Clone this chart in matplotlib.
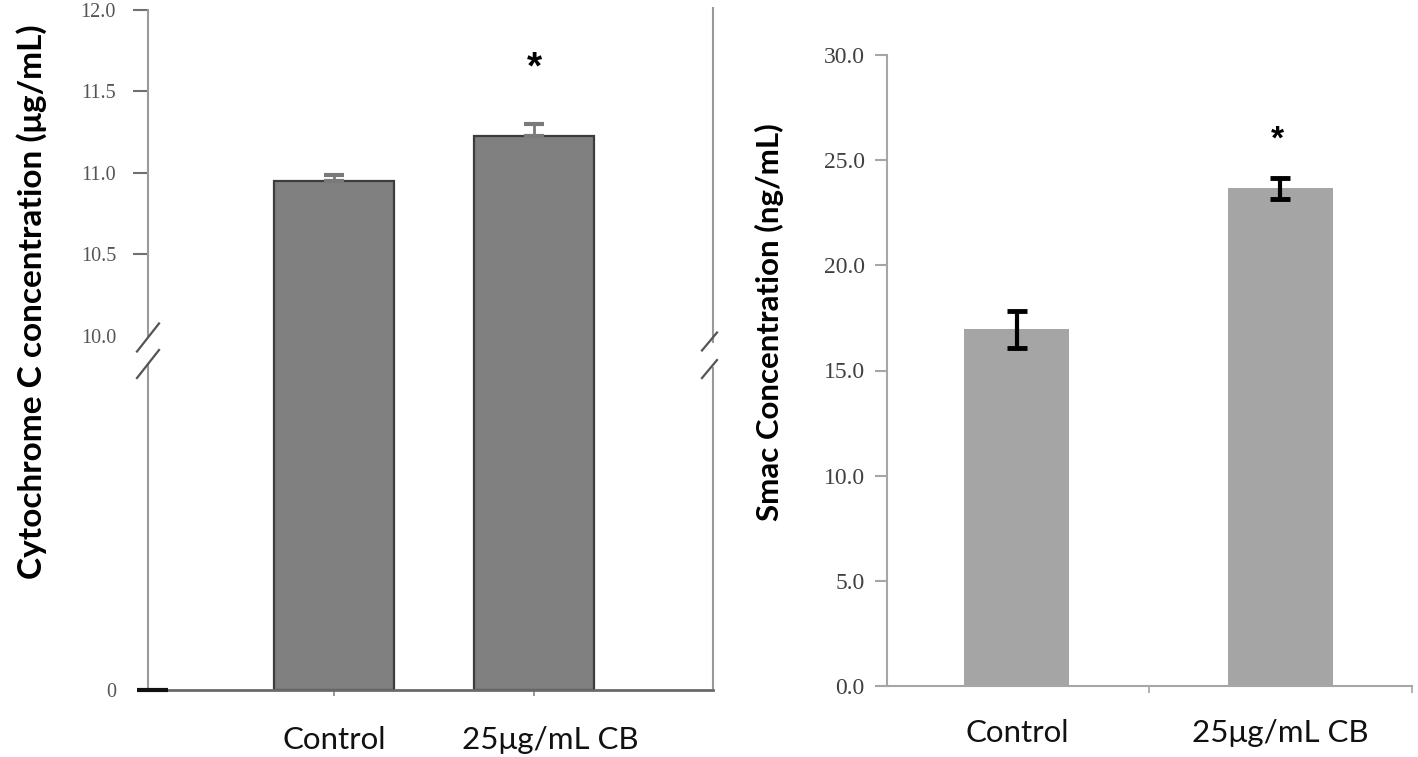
import numpy as np
import matplotlib
matplotlib.use("Agg")
import matplotlib.pyplot as plt
import matplotlib.transforms as mtransforms
from matplotlib.ticker import FixedLocator, FixedFormatter

# dados
grupos = ["Control", "25\u03bcg/mL CB"]
cyto_media = [10.947, 11.223]
cyto_erro = [0.04, 0.078]
smac_media = [16.95, 23.67]
smac_erro = [0.9, 0.5]
cyto_ticks = [0, 10.0, 10.5, 11.0, 11.5, 12.0]
cyto_labels = ["0", "10.0", "10.5", "11.0", "11.5", "12.0"]
smac_ticks = [0, 5, 10, 15, 20, 25, 30]
smac_labels = ["0.0", "5.0", "10.0", "15.0", "20.0", "25.0", "30.0"]
signif = ["", "*"]

# escala quebrada: 0-10 comprimido, 10-12 expandido
def fwd(v):
    v = np.asarray(v, dtype=float)
    return np.where(v <= 10, v * 35.5, 355 + 163 * (v - 10))

def inv(p):
    p = np.asarray(p, dtype=float)
    return np.where(p <= 355, p / 35.5, 10 + (p - 355) / 163)

W, H = 1418, 757
fig = plt.figure(figsize=(W / 100, H / 100), dpi=100)

def px_axes(x0, x1, ytop, ybot):
    return fig.add_axes([x0 / W, (H - ybot) / H, (x1 - x0) / W, (ybot - ytop) / H])

serif = "Liberation Serif"
sans = "Lato"

# ---------- painel esquerdo: citocromo C ----------
ax1 = px_axes(148, 713, 10, 690)
ax1.set_yscale("function", functions=(fwd, inv))
x = np.arange(len(grupos))
ax1.bar(x, cyto_media, width=0.6, color="#808080", edgecolor="#3c3c3c", linewidth=1.6, zorder=2)
ax1.errorbar(x, cyto_media, yerr=[[0, 0], cyto_erro], fmt="none", ecolor="#7a7a7a",
             elinewidth=2, capsize=7, capthick=3, zorder=3)
ax1.set_xlim(-0.93, 1.895)
ax1.set_ylim(0, 12.0)

for s in ["top", "left", "right"]:
    ax1.spines[s].set_visible(False)
ax1.spines["bottom"].set_color("#6a6a6a")
ax1.spines["bottom"].set_linewidth(2)

ax1.yaxis.set_major_locator(FixedLocator(cyto_ticks))
ax1.yaxis.set_major_formatter(FixedFormatter(cyto_labels))
ax1.tick_params(axis="y", direction="out", length=11, width=1.5, color="#707070",
                labelsize=14.5, labelcolor="#555555", pad=12)
for lab in ax1.get_yticklabels():
    lab.set_fontfamily(serif)
ticks = ax1.yaxis.get_major_ticks()
ticks[0].tick1line.set_visible(False)
ticks[1].tick1line.set_visible(False)

ax1.set_xticks(x)
ax1.set_xticklabels(grupos, fontfamily=sans, fontsize=22.5, color="#111111")
ax1.tick_params(axis="x", direction="out", length=4, width=1.2, color="#888888", pad=22)
# no original o segundo rótulo está um pouco deslocado para a direita
lab2 = ax1.get_xticklabels()[1]
lab2.set_transform(lab2.get_transform() +
                   mtransforms.ScaledTranslation(16 / 100, 0, fig.dpi_scale_trans))

# eixos verticais com a quebra
ln = dict(color="#9a9a9a", lw=1.5, transform=ax1.transAxes, clip_on=False)
ax1.plot([0, 0], [1.0, 0.519], **ln)
ax1.plot([0, 0], [0.479, 0.0], **ln)
ax1.plot([1, 1], [1.003, 0.512], **ln)
ax1.plot([1, 1], [0.4735, 0.0], **ln)
sl = dict(color="#555555", lw=1.6, transform=ax1.transAxes, clip_on=False)
for cy in [0.5184, 0.4794]:
    ax1.plot([-0.0195, 0.0195], [cy - 0.0206, cy + 0.0206], **sl)
for cy in [0.5125, 0.472]:
    ax1.plot([0.9805, 1.0071], [cy - 0.0132, cy + 0.0132], **sl)
ax1.plot([-0.0195, 0.035], [0, 0], color="#111111", lw=3, transform=ax1.transAxes,
         clip_on=False, solid_capstyle="butt", zorder=5)

ax1.set_ylabel("Cytochrome C concentration (\u03bcg/mL)", fontfamily=sans,
               fontweight="bold", fontsize=24)
ax1.yaxis.set_label_coords(-0.206, 0.571)
ax1.yaxis.label.set_va("center")

for xi, s in zip(x, signif):
    if s:
        ax1.text(xi, 11.64, s, ha="center", va="center", fontsize=28,
                 fontweight="bold", fontfamily="Liberation Sans")

# ---------- painel direito: Smac ----------
ax2 = px_axes(887, 1412, 55, 686)
ax2.bar(x, smac_media, width=0.4, color="#a5a5a5", zorder=2)
ax2.errorbar(x, smac_media, yerr=smac_erro, fmt="none", ecolor="#000000",
             elinewidth=3, capsize=7, capthick=3.5, zorder=3)
ax2.set_xlim(-0.4925, 1.48)
ax2.set_ylim(0, 30)
for s in ["top", "right"]:
    ax2.spines[s].set_visible(False)
for s in ["left", "bottom"]:
    ax2.spines[s].set_color("#a6a6a6")
    ax2.spines[s].set_linewidth(1.5)
ax2.set_yticks(smac_ticks)
ax2.set_yticklabels(smac_labels, fontfamily=serif)
ax2.tick_params(axis="y", direction="out", length=9, width=1.5, color="#a6a6a6",
                labelsize=17, labelcolor="#404040", pad=7)
ax2.set_xticks(x)
ax2.set_xticklabels(grupos, fontfamily=sans, fontsize=22.5, color="#111111")
ax2.set_xticks([0.5, 1.5], minor=True)
ax2.tick_params(axis="x", which="major", length=0, pad=24)
ax2.tick_params(axis="x", which="minor", direction="out", length=5, width=1.2, color="#a6a6a6")

ax2.set_ylabel("Smac Concentration (ng/mL)", fontfamily=sans, fontweight="bold", fontsize=22.5)
ax2.yaxis.set_label_coords(-0.223, 0.577)
ax2.yaxis.label.set_va("center")

for xi, s in zip(x, signif):
    if s:
        ax2.text(xi - 0.01, 25.95, s, ha="center", va="center", fontsize=24,
                 fontweight="bold", fontfamily="Liberation Sans")

fig.savefig("out.png", dpi=100)
